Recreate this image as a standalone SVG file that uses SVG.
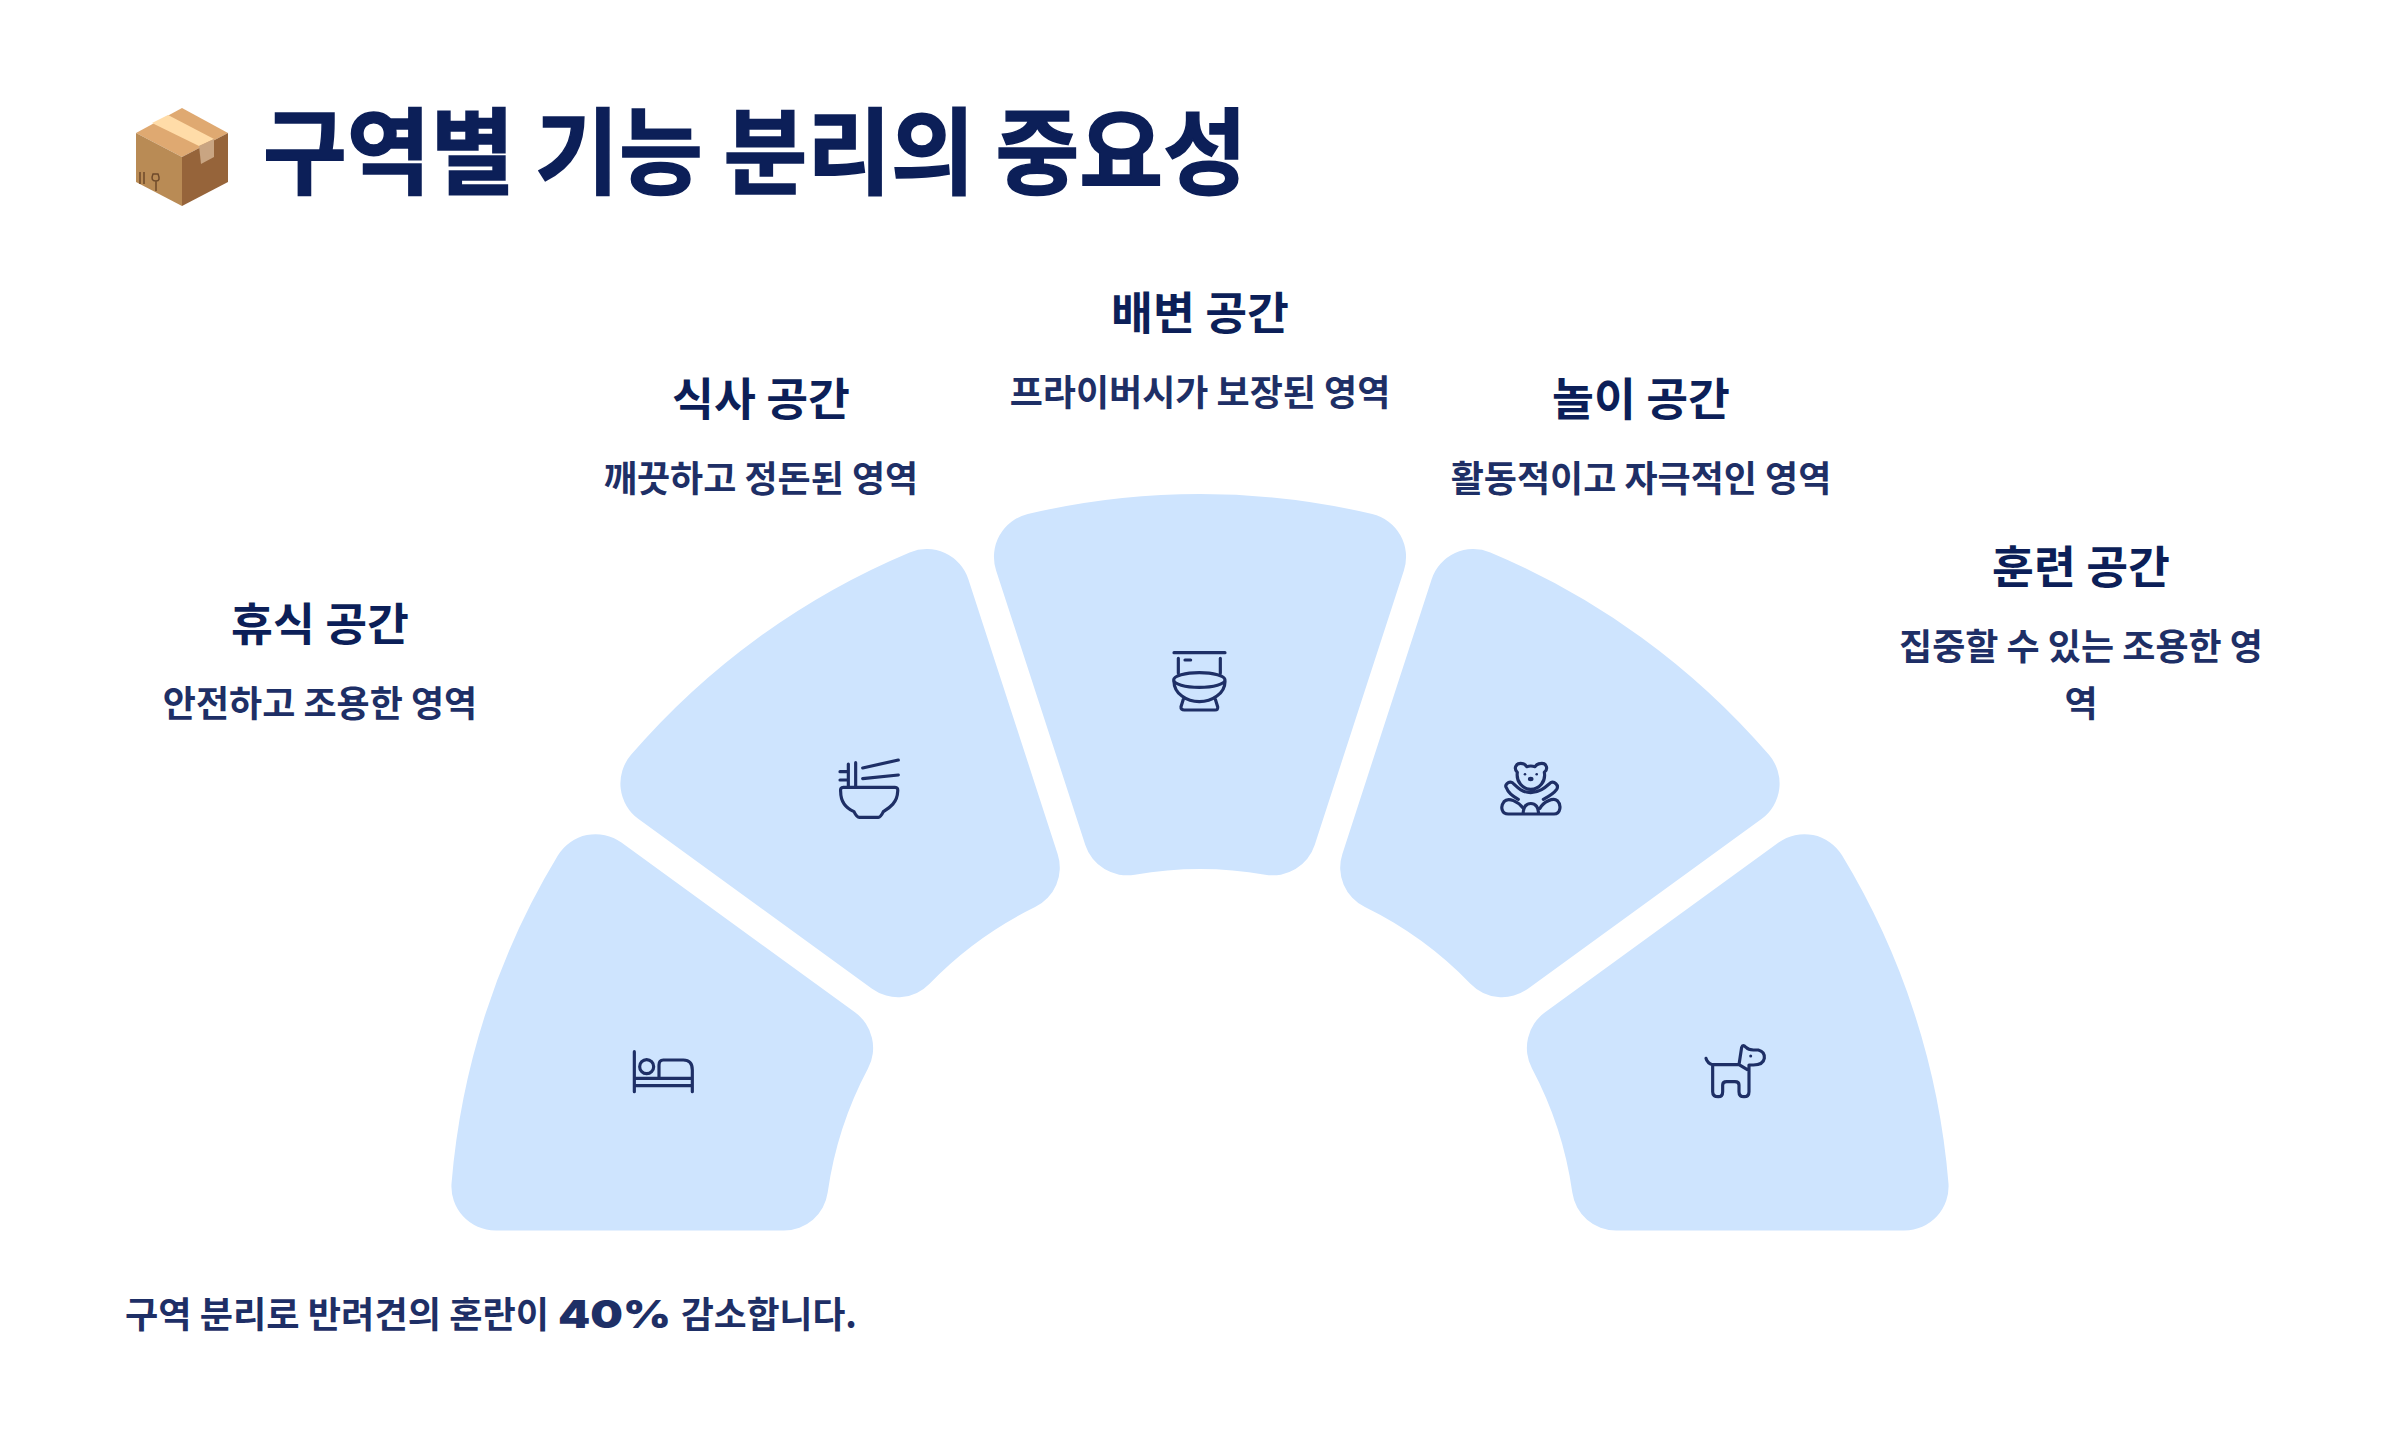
<svg xmlns="http://www.w3.org/2000/svg" width="2400" height="1442" viewBox="0 0 2400 1442">
<style>
text{font-family:"Noto Sans CJK KR","Noto Sans",sans-serif}
.t{font-size:94px;font-weight:700;fill:#0c1f58;stroke:#0c1f58;stroke-width:1.500}
.h{font-size:45.500px;font-weight:700;fill:#0c1f58;text-anchor:middle}
.d{font-size:36px;font-weight:700;fill:#1e2f66;text-anchor:middle}
.f{font-size:36px;font-weight:700;fill:#1e2f66}
.w{fill:#cee4fe}
.i{fill:none;stroke:#1e2f66;stroke-width:9.500;stroke-linecap:round;stroke-linejoin:round}
.n{fill:#1e2f66}
</style>
<defs>
<path id="wedge" class="w" d="M1027.8 514A751 751 0 0 1 1372.2 514A44 44 0 0 1 1403.9 570.4L1314.7 844.9A44 44 0 0 1 1265.2 874.7A376 376 0 0 0 1134.8 874.7A44 44 0 0 1 1085.3 844.9L996.1 570.4A44 44 0 0 1 1027.8 514Z"/>
</defs>
<rect width="2400" height="1442" fill="#fff"/>
<g id="title">
<polygon points="182,108 228,133 182,157 136,133" fill="#dfa971"/>
<polygon points="136,133 182,157 182,206 136,182" fill="#b98b55"/>
<polygon points="228,133 228,182 182,206 182,157" fill="#96643a"/>
<polygon points="152,123 168,115 214,139 199,146" fill="#ffdca8"/>
<polygon points="199,146 214,139 214,157 201,164" fill="#c9a582"/>
<path d="M140 172V184M144 172V184M153 174Q150 181 156 181Q161 181 158 174ZM156 181V191" fill="none" stroke="#6e4a2a" stroke-width="1.500"/>
<text class="t" x="263" y="187" textLength="984" lengthAdjust="spacingAndGlyphs">구역별 기능 분리의 중요성</text>
</g>
<g id="node-rest">
<use href="#wedge" transform="rotate(-72 1200 1245)"/>
<g class="i" transform="translate(620 1030) scale(.3333)">
<path d="M43 65V185M217 185V120Q217 90 190 90H130Q117 90 117 105V145M43 145H217M43 167H217"/><circle cx="80" cy="110" r="21"/>
</g>
<text class="h" x="320" y="641">휴식 공간</text>
<text class="d" x="320" y="717">안전하고 조용한 영역</text>
</g>
<g id="node-meal">
<use href="#wedge" transform="rotate(-36 1200 1245)"/>
<g class="i" transform="translate(810 740) scale(.3333)">
<path d="M115 72V140M137 68V140M90 95H115M90 120H115M158 84L265 60M158 116L265 105M100 142H255Q265 142 263 155C262 190 235 205 220 215Q212 232 205 232H148Q140 232 132 215C110 205 92 185 92 155Q90 142 100 142Z"/>
</g>
<text class="h" x="761" y="416">식사 공간</text>
<text class="d" x="761" y="492">깨끗하고 정돈된 영역</text>
</g>
<g id="node-toilet">
<use href="#wedge" transform="rotate(0 1200 1245)"/>
<g class="i" transform="translate(1150 630) scale(.3333)">
<path d="M72 68H225M105 90H122M85 85V130M211 85V130M72 155C72 190 110 215 148 215C186 215 225 190 225 155M100 208L93 230Q92 240 103 240H195Q205 240 203 230L196 208"/><ellipse cx="148" cy="150" rx="77" ry="22"/>
</g>
<text class="h" x="1200" y="330">배변 공간</text>
<text class="d" x="1200" y="406">프라이버시가 보장된 영역</text>
</g>
<g id="node-play">
<use href="#wedge" transform="rotate(36 1200 1245)"/>
<g class="i" transform="translate(1480 740) scale(.3333)">
<path d="M112 97C100 85 108 70 122 70C132 70 138 76 140 80Q152 76 165 80C170 72 178 70 186 70C200 70 205 88 193 97C198 125 178 148 152 148C128 148 108 125 112 97ZM80 145C72 135 85 123 97 128C110 140 125 158 152 158C180 158 198 140 212 128C222 123 238 135 230 148C222 160 205 170 190 178M80 145C85 160 100 170 115 178M130 222H85C65 222 60 200 72 185C85 170 115 185 130 205M130 222C125 180 180 180 175 222M175 222H222C242 222 245 195 232 182C220 172 190 185 180 205M130 222H175"/>
</g>
<g class="n"><circle cx="1525" cy="774.300" r="1.300"/><circle cx="1536.700" cy="774.300" r="1.300"/><ellipse cx="1530.700" cy="779" rx="2.800" ry="2.200"/></g>
<text class="h" x="1641" y="416">놀이 공간</text>
<text class="d" x="1641" y="492">활동적이고 자극적인 영역</text>
</g>
<g id="node-train">
<use href="#wedge" transform="rotate(72 1200 1245)"/>
<g class="i" transform="translate(1690 1030) scale(.3333)">
<path d="M48 85Q52 100 68 104V185Q68 200 85 200Q98 200 98 185V165Q98 155 110 155H135Q147 155 147 165V185Q147 200 162 200Q177 200 177 185V115M68 104H147L155 52Q158 42 168 52Q175 60 190 60H205Q225 65 223 85Q220 105 190 105H177V122L147 104"/>
</g>
<circle class="n" cx="1750.700" cy="1056" r="1.500"/>
<text class="h" x="2081" y="584">훈련 공간</text>
<text class="d" x="2081" y="660">집중할 수 있는 조용한 영</text>
<text class="d" x="2081" y="717">역</text>
</g>
<g id="connectors"></g>
<g id="footer">
<text class="f" x="125" y="1328" textLength="424" lengthAdjust="spacingAndGlyphs">구역 분리로 반려견의 혼란이</text>
<text class="f" x="558" y="1328" textLength="113" lengthAdjust="spacingAndGlyphs" style="font-family:Inter,sans-serif;font-weight:900;font-size:38px">40%</text>
<text class="f" x="681" y="1328" textLength="176" lengthAdjust="spacingAndGlyphs">감소합니다.</text>
</g>
</svg>
